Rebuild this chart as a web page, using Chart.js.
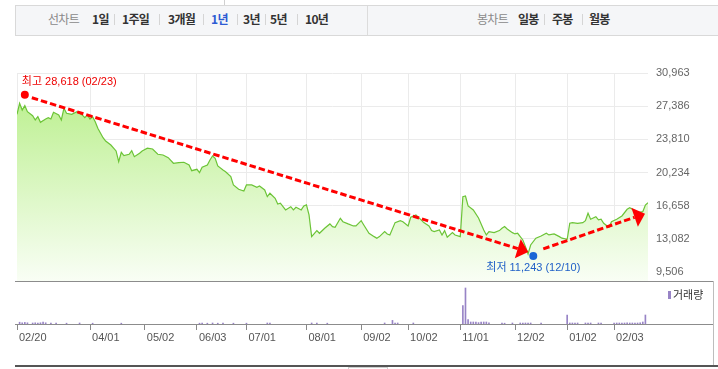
<!DOCTYPE html>
<html lang="ko">
<head>
<meta charset="UTF-8" />
<title>1년 선차트</title>
<script src="https://cdn.jsdelivr.net/npm/chart.js@4.4.1/dist/chart.umd.min.js"></script>
<style>
  body { margin: 0; background: #fff; font-family: "Noto Sans CJK KR", sans-serif; }
  #wrap { position: relative; width: 718px; height: 369px; overflow: hidden; }
  #tabs { position: absolute; left: 15px; top: 5px; width: 703px; height: 31px; box-sizing: border-box;
          background: #f5f6f8; border: 1px solid #d9d9d9; border-right: none; }
  #tabDiv { position: absolute; left: 367px; top: 6px; width: 1px; height: 29px; background: #dcdcdc; }
  #topLine { position: absolute; left: 224px; top: 0; width: 1px; height: 5px; background: #d0d0d0; }
  .t { position: absolute; top: 12px; font-size: 12px; line-height: 14px; font-weight: bold; color: #333;
       letter-spacing: -0.7px; white-space: nowrap; }
  .g { font-weight: normal; color: #8a8a8a; }
  .on { color: #2d5bd3; }
  .s { position: absolute; top: 14px; width: 1px; height: 11px; background: #d5d5d5; }
  canvas { position: absolute; left: 0; top: 0; }
</style>
</head>
<body>
<div id="wrap">
  <div id="topLine"></div>
  <div id="tabs"></div>
  <div id="tabDiv"></div>
  <span class="t g" style="left:48px">선차트</span>
  <span class="t" style="left:92px">1일</span>
  <i class="s" style="left:114px"></i>
  <span class="t" style="left:122px">1주일</span>
  <i class="s" style="left:159px"></i>
  <span class="t" style="left:168px">3개월</span>
  <i class="s" style="left:203px"></i>
  <span class="t on" style="left:211px">1년</span>
  <i class="s" style="left:237px"></i>
  <span class="t" style="left:243px">3년</span>
  <i class="s" style="left:265px"></i>
  <span class="t" style="left:270px">5년</span>
  <i class="s" style="left:297px"></i>
  <span class="t" style="left:305px">10년</span>
  <span class="t g" style="left:477px">봉차트</span>
  <span class="t" style="left:518px">일봉</span>
  <i class="s" style="left:544px"></i>
  <span class="t" style="left:552px">주봉</span>
  <i class="s" style="left:582px"></i>
  <span class="t" style="left:589px">월봉</span>
  <canvas id="price" width="718" height="369"></canvas>
  <canvas id="volume" width="718" height="369"></canvas>
</div>
<script>
  // trading day index (0 = 02/20) and closing price
  const priceDays = [
    0, 1, 2, 3, 4, 6, 7, 8, 9, 11,
    12, 13, 14, 16, 17, 18, 19, 21, 23, 25,
    26, 27, 28, 29, 30, 31, 33, 34, 36, 38,
    39, 40, 41, 43, 44, 45, 47, 48, 50, 52,
    54, 56, 58, 60, 62, 64, 66, 67, 69, 70,
    71, 73, 74, 75, 76, 77, 79, 80, 82, 83,
    85, 87, 88, 90, 92, 93, 95, 96, 97, 99,
    100, 101, 103, 105, 106, 107, 109, 110, 111, 112,
    113, 115, 116, 118, 120, 121, 122, 124, 125, 127,
    129, 130, 132, 133, 135, 137, 138, 139, 141, 142,
    143, 145, 147, 148, 150, 151, 153, 155, 156, 158,
    159, 160, 162, 163, 164, 165, 167, 168, 170, 171,
    172, 173, 175, 177, 179, 180, 181, 183, 185, 186,
    187, 188, 190, 191, 192, 194, 195, 196, 197, 199,
    201, 203, 204, 206, 208, 209, 211, 212, 213, 215,
    217, 218, 219, 220, 222, 223, 224, 225, 227, 228,
    230, 232, 234, 235, 236, 238, 240, 241, 242
  ];
  const priceValues = [
    26510, 27700, 26970, 27440, 26790, 26360, 25900, 26250, 25650, 26000,
    26140, 26000, 26730, 26440, 25900, 27160, 26620, 26510, 26790, 26440,
    26140, 26440, 26000, 26250, 25710, 25000, 23990, 23630, 23200, 22560,
    21400, 22410, 22050, 22200, 22590, 21940, 22310, 22560, 22850, 22770,
    22200, 22120, 21830, 21230, 21290, 21340, 21050, 20430, 20580, 20220,
    20800, 21050, 21590, 22020, 21770, 20940, 20510, 20320, 19790, 18890,
    18430, 18240, 18890, 18890, 18640, 18780, 18350, 17630, 18000, 17460,
    16840, 16920, 16200, 16550, 16200, 16490, 16200, 16630, 16740, 15660,
    13320, 13970, 13680, 14220, 14690, 14400, 14330, 15300, 14930, 14690,
    14470, 14470, 15040, 14580, 13680, 13320, 13150, 13320, 13860, 13610,
    13500, 14830, 15040, 14930, 14470, 15410, 15660, 15120, 14830, 14470,
    13970, 13860, 14040, 13500, 13970, 13250, 13750, 13500, 13320, 17630,
    17700, 16630, 16200, 15330, 14040, 13500, 13860, 13750, 13970, 14220,
    14400, 14150, 13750, 13610, 13680, 12960, 12240, 11450, 12420, 13150,
    13390, 13680, 13500, 13610, 13320, 13150, 13040, 14760, 14830, 14760,
    14830, 15040, 15840, 15190, 15470, 15120, 15190, 14760, 14330, 14930,
    15190, 15550, 16270, 16440, 16270, 15900, 16010, 16730, 16980
  ];

  // days with visible volume bars and their relative size
  const volumeDays = [
    1, 2, 3, 4, 6, 7, 8, 9, 10, 11, 13, 15, 19, 24, 29, 40,
    70, 71, 73, 75, 77, 79, 83, 88, 96, 97, 113, 115, 119,
    141, 144, 145, 146, 152,
    171, 172, 173, 174, 175, 176, 177, 178, 179, 180, 181, 186, 187, 190, 193, 194, 195, 196, 197, 201,
    211, 212, 213, 214, 215, 218, 219, 220, 223, 224,
    229, 230, 231, 232, 233, 234, 235, 236, 237, 238, 239, 240, 241
  ];
  const volumeValues = [
    450, 300, 400, 300, 250, 300, 250, 300, 450, 300, 250, 250, 200, 250, 200, 200,
    200, 250, 200, 250, 200, 250, 200, 200, 250, 200, 250, 250, 200,
    250, 900, 250, 250, 250,
    4600, 9000, 1100, 500, 500, 500, 350, 500, 500, 500, 300, 200, 200, 250, 250, 250, 250, 250, 250, 200,
    2250, 250, 250, 250, 250, 250, 250, 250, 250, 250,
    250, 250, 250, 250, 250, 300, 250, 250, 250, 250, 300, 500, 2250
  ];

  const tickDays = [0, 28, 49, 69, 88, 111, 132, 150, 170, 191, 211, 229];
  const tickLabels = ["02/20", "04/01", "05/02", "06/03", "07/01", "08/01", "09/02", "10/02", "11/01", "12/02", "01/02", "02/03"];
  const priceTicks = [9506, 13082, 16658, 20234, 23810, 27386, 30963];

  const highDay = 3, highValue = 28618, highText = "최고 28,618 (02/23)";
  const lowDay = 198, lowValue = 11243, lowText = "최저 11,243 (12/10)";

  const lastDay = 242;
  const numFont = "'Liberation Sans', 'Noto Sans CJK KR', sans-serif";
  const grid = "#ebebeb";

  function arrow(ctx, x1, y1, x2, y2) {
    const len = Math.hypot(x2 - x1, y2 - y1);
    const ux = (x2 - x1) / len, uy = (y2 - y1) / len;
    const bx = x2 - ux * 11, by = y2 - uy * 11;
    ctx.save();
    ctx.strokeStyle = "#ff0000";
    ctx.fillStyle = "#ff0000";
    ctx.lineWidth = 3;
    ctx.setLineDash([6.5, 3]);
    ctx.beginPath();
    ctx.moveTo(x1, y1);
    ctx.lineTo(bx, by);
    ctx.stroke();
    ctx.setLineDash([]);
    ctx.beginPath();
    ctx.moveTo(x2, y2);
    ctx.lineTo(bx - uy * 10, by + ux * 10);
    ctx.lineTo(bx + uy * 10, by - ux * 10);
    ctx.closePath();
    ctx.fill();
    ctx.restore();
  }

  const markers = {
    id: "markers",
    afterDatasetsDraw(chart) {
      const { ctx, scales: { x, y } } = chart;
      const hx = x.getPixelForValue(highDay), hy = y.getPixelForValue(highValue);
      const lx = x.getPixelForValue(lowDay), ly = y.getPixelForValue(lowValue);
      const n = priceDays.length - 1;
      const ex = x.getPixelForValue(priceDays[n]), ey = y.getPixelForValue(priceValues[n]);

      arrow(ctx, hx + 7, hy + 3, lx - 5, ly - 4);
      arrow(ctx, lx + 10, ly - 7, ex - 3, ey + 11);

      ctx.save();
      ctx.fillStyle = "#f00";
      ctx.beginPath(); ctx.arc(hx, hy, 4, 0, Math.PI * 2); ctx.fill();
      ctx.fillStyle = "#1b66d6";
      ctx.beginPath(); ctx.arc(lx, ly, 4, 0, Math.PI * 2); ctx.fill();
      ctx.font = "11px " + numFont;
      ctx.textBaseline = "middle";
      ctx.fillStyle = "#ee0000";
      ctx.textAlign = "left";
      ctx.fillText(highText, hx - 3, hy - 13);
      ctx.fillStyle = "#1f5fc7";
      ctx.textAlign = "center";
      ctx.fillText(lowText, lx, ly + 12);
      ctx.restore();
    }
  };

  new Chart(document.getElementById("price"), {
    type: "line",
    data: {
      datasets: [{
        data: priceDays.map((d, i) => ({ x: d, y: priceValues[i] })),
        borderColor: "#6cc437",
        borderWidth: 1.2,
        pointRadius: 0,
        tension: 0,
        fill: "start",
        backgroundColor: (c) => {
          const a = c.chart.chartArea;
          if (!a) return "#d8f5c0";
          const g = c.chart.ctx.createLinearGradient(0, a.top, 0, a.bottom);
          g.addColorStop(0, "#b5ee84");
          g.addColorStop(1, "#f9fef5");
          return g;
        }
      }]
    },
    options: {
      responsive: false,
      animation: false,
      devicePixelRatio: 1,
      layout: { padding: { left: 17, top: 73, right: 0, bottom: 88 } },
      plugins: { legend: { display: false }, tooltip: { enabled: false } },
      scales: {
        x: {
          type: "linear", min: 0, max: lastDay,
          afterBuildTicks: (s) => { s.ticks = tickDays.map((v) => ({ value: v })); },
          afterFit: (s) => { s.height = 0; },
          ticks: { display: false },
          grid: { color: grid, drawTicks: false },
          border: { display: false }
        },
        y: {
          position: "right", min: 8536, max: 30963,
          afterBuildTicks: (s) => { s.ticks = priceTicks.map((v) => ({ value: v })); },
          afterFit: (s) => { s.width = 70; },
          ticks: {
            color: "#666", padding: 8,
            font: { family: numFont, size: 11 },
            callback: (v) => v.toLocaleString("en-US")
          },
          grid: { color: grid, drawTicks: false },
          border: { display: false }
        }
      }
    },
    plugins: [markers]
  });

  const frame = {
    id: "frame",
    beforeDatasetsDraw(chart) {
      const ctx = chart.ctx;
      ctx.save();
      ctx.fillStyle = "#8c8c8c";
      ctx.fillRect(15, 281, 698, 1);
      ctx.fillRect(15, 324, 698, 1);
      ctx.fillStyle = "#bdbdbd";
      ctx.fillRect(713, 281, 1, 85);
      ctx.restore();
    },
    afterDraw(chart) {
      const ctx = chart.ctx;
      ctx.save();
      ctx.fillStyle = "#555";
      ctx.fillRect(15, 365, 703, 2);
      ctx.strokeStyle = "#cfcfcf";
      ctx.strokeRect(348.5, 367.5, 39, 4);
      ctx.fillStyle = "#9884c6";
      ctx.fillRect(668, 291, 3, 8);
      ctx.fillStyle = "#333";
      ctx.font = "11px 'Noto Sans CJK KR', sans-serif";
      ctx.textBaseline = "middle";
      ctx.fillText("거래량", 673, 295);
      ctx.restore();
    }
  };

  new Chart(document.getElementById("volume"), {
    type: "bar",
    data: {
      datasets: [{
        data: volumeDays.map((d, i) => ({ x: d, y: volumeValues[i] })),
        backgroundColor: "#9884c6",
        barThickness: 1,
        borderWidth: 0
      }]
    },
    options: {
      responsive: false,
      animation: false,
      devicePixelRatio: 1,
      layout: { padding: { left: 17, top: 284, right: 70, bottom: 0 } },
      plugins: { legend: { display: false }, tooltip: { enabled: false } },
      scales: {
        x: {
          type: "linear", min: 0, max: lastDay, offset: false,
          afterBuildTicks: (s) => { s.ticks = tickDays.map((v) => ({ value: v })); },
          afterFit: (s) => { s.height = 45; },
          ticks: {
            align: "start", padding: 1, labelOffset: 2, maxRotation: 0, autoSkip: false,
            color: "#555", font: { family: numFont, size: 11 },
            callback: (v) => tickLabels[tickDays.indexOf(v)]
          },
          grid: { drawOnChartArea: false, offset: false, tickLength: 6, color: "#888" },
          border: { display: false }
        },
        y: { display: false, min: 0, max: 10000 }
      }
    },
    plugins: [frame]
  });
</script>
</body>
</html>
